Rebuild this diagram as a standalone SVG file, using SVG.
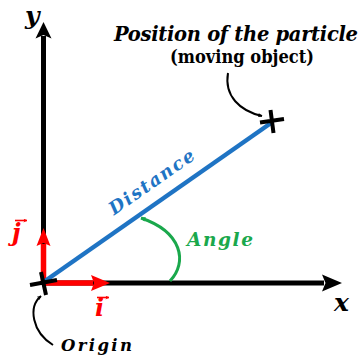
<svg xmlns="http://www.w3.org/2000/svg" width="363" height="358" viewBox="0 0 363 358">
<style>
.ax{stroke:#000;stroke-width:5;fill:none}
.t{font-family:"DejaVu Serif","Liberation Serif",serif;font-weight:bold}
.it{font-style:italic}
.thin{stroke:#000;stroke-width:2;fill:none}
.vec{stroke:#ff0000;stroke-width:1.6;fill:none}
</style>
<defs>
<marker id="ak" viewBox="0 0 10 10" refX="9" refY="5" markerWidth="4.5" markerHeight="4.5" orient="auto" markerUnits="userSpaceOnUse">
<path d="M0,0 L10,5 L0,10 L3,5 z" fill="#000"/>
</marker>
<marker id="ag" viewBox="0 0 10 10" refX="9" refY="5" markerWidth="5" markerHeight="5" orient="auto" markerUnits="userSpaceOnUse">
<path d="M0,0 L10,5 L0,10 L3,5 z" fill="#1aa84c"/>
</marker>
<marker id="ar" viewBox="0 0 10 10" refX="9" refY="5" markerWidth="4" markerHeight="4" orient="auto" markerUnits="userSpaceOnUse">
<path d="M0,0 L10,5 L0,10 L3,5 z" fill="#ff0000"/>
</marker>
</defs>
<rect width="363" height="358" fill="#fff"/>
<g id="axes">
<line class="ax" x1="43.5" y1="283" x2="43.5" y2="36"/>
<polygon points="43.5,22 51.5,38.5 43.5,35 35.5,38.5" fill="#000"/>
<line class="ax" x1="43" y1="283" x2="324" y2="283"/>
<polygon points="342,283 322,291.5 325.5,283 322,274.5" fill="#000"/>
<text class="t it" x="25" y="24" font-size="25">y</text>
<text class="t it" x="334" y="311" font-size="25">x</text>
</g>
<g id="unit-vectors">
<line x1="43.5" y1="283" x2="43.5" y2="244" stroke="#ff0000" stroke-width="5.5"/>
<polygon points="43.5,228 50.5,246 43.5,243 36.5,246" fill="#ff0000"/>
<line x1="43" y1="283" x2="93" y2="283" stroke="#ff0000" stroke-width="5.5"/>
<polygon points="110,283 91,291 94,283 91,275" fill="#ff0000"/>
<text class="t it" x="12" y="241" font-size="24" fill="#ff0000">j</text>
<path class="vec" d="M15,220.5 L27,220.5" marker-end="url(#ar)"/>
<text class="t it" x="95" y="316" font-size="24" fill="#ff0000">i</text>
<path class="vec" d="M97,297.5 L109,297.5" marker-end="url(#ar)"/>
</g>
<g id="distance">
<line x1="45" y1="281" x2="271" y2="123" stroke="#1f74c4" stroke-width="4.5"/>
<text class="t it" transform="translate(155,187) rotate(-34.8)" text-anchor="middle" font-size="18" textLength="100" lengthAdjust="spacing" fill="#1f74c4">Distance</text>
</g>
<g id="angle">
<path d="M170,281 C188,262 182,232 141,218" stroke="#1aa84c" stroke-width="3" fill="none" marker-end="url(#ag)"/>
<text class="t it" x="187" y="246" font-size="18.5" textLength="66" lengthAdjust="spacing" fill="#1aa84c">Angle</text>
</g>
<g id="origin">
<path d="M30,285 L57,280 M41,272 L46,295" stroke="#000" stroke-width="4" fill="none"/>
<text class="t it" x="61" y="351" font-size="16.5" textLength="71" lengthAdjust="spacing">Origin</text>
</g>
<g id="particle">
<path d="M260,122.5 L284,119 M270.5,110 L273.5,133" stroke="#000" stroke-width="4" fill="none"/>
<text class="t it" x="114" y="41" font-size="19.5" textLength="244" lengthAdjust="spacing">Position of the particle</text>
<text class="t" x="170" y="63" font-size="18" textLength="144" lengthAdjust="spacingAndGlyphs">(moving object)</text>
</g>
<g id="connectors">
<path class="thin" d="M228,73 C224,96 240,111 262,116" marker-end="url(#ak)"/>
<path class="thin" d="M53,345 C32,332 28,307 41,296" marker-end="url(#ak)"/>
</g>
</svg>
